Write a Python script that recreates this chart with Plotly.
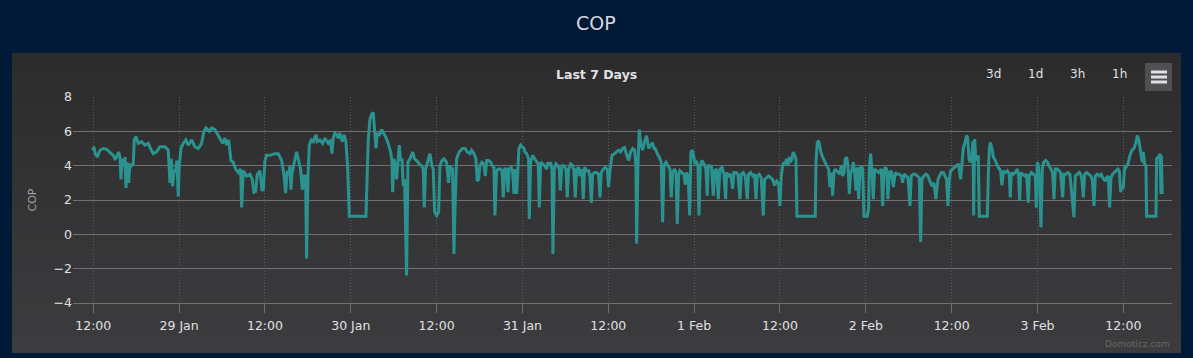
import pandas as pd
import plotly.graph_objects as go

# ---------------- data (hours since 28 Jan 00:00, COP) ----------------
A_hours = [11.91, 12.09, 12.28, 12.56, 12.93, 13.40, 13.86, 14.33, 14.80, 15.03,
           15.26, 15.54, 15.73, 15.87, 16.05, 16.29, 16.43, 16.57, 16.75, 16.94,
           17.13, 17.36, 17.59, 17.73, 17.96, 18.29, 18.76, 19.22, 19.69, 20.01,
           20.39, 20.85, 21.32, 22.02, 22.48, 22.72, 22.90, 23.09, 23.28, 23.51,
           23.70, 23.88, 24.02, 24.26, 24.58, 24.95, 25.28, 25.75, 26.21, 26.68,
           27.14, 27.47, 27.75, 28.22, 28.54, 29.01, 29.38, 29.71, 30.08, 30.41,
           30.64, 30.92, 31.11, 31.25, 31.57, 31.90, 32.27, 32.60, 32.74, 32.97,
           33.44, 33.90, 34.23, 34.46, 34.69, 34.93, 35.30, 35.58, 35.77, 36.00,
           36.23, 36.70, 37.40, 37.86, 38.33, 38.65, 38.89, 39.12, 39.35, 39.49,
           39.63, 39.77, 40.05, 40.43, 40.70, 40.98, 41.22, 41.45, 41.68, 41.82,
           42.01, 42.20, 42.48, 42.76, 43.13, 43.31, 43.69, 44.06, 44.39, 44.85,
           45.18, 45.36, 45.55, 45.78, 46.02, 46.25, 46.48, 46.81, 47.09, 47.32,
           47.55, 47.79, 50.12, 50.30, 50.44]
A_cop = [4.9, 5.1, 4.7, 4.5, 4.9, 5.0, 4.95, 4.8, 4.6, 4.4,
         4.5, 4.8, 4.5, 3.2, 4.4, 4.0, 4.5, 2.7, 4.2, 3.0,
         4.1, 4.0, 4.1, 5.5, 5.7, 5.3, 5.4, 5.2, 5.3, 5.0,
         4.7, 4.8, 5.1, 5.1, 4.9, 3.0, 4.4, 2.8, 3.6, 3.8,
         4.3, 2.2, 4.0, 5.0, 5.3, 5.5, 5.2, 5.5, 5.1, 5.0,
         5.3, 6.0, 6.2, 6.0, 6.2, 6.1, 5.8, 5.6, 5.3, 5.6,
         5.2, 5.5, 4.8, 4.3, 4.2, 3.8, 3.6, 3.8, 1.57, 3.7,
         3.4, 3.5, 3.2, 2.45, 2.5, 3.5, 3.7, 2.6, 2.6, 4.3,
         4.6, 4.6, 4.7, 4.7, 4.3, 3.5, 2.4, 3.7, 3.5, 4.0,
         2.6, 3.5, 4.1, 4.8, 4.3, 3.8, 2.6, 3.4, 3.4, -1.4,
         3.3, 5.2, 5.5, 5.4, 5.8, 5.4, 5.5, 5.3, 5.6, 5.3,
         5.5, 4.7, 5.6, 5.9, 5.8, 5.6, 5.9, 5.4, 5.8, 5.4,
         4.0, 1.05, 1.05, 3.5, 5.5]

B_hours = [50.68, 50.91, 51.14, 51.33, 51.52, 51.70, 51.98, 52.31, 52.63, 52.91,
           53.15, 53.38, 53.57, 53.75, 53.85, 54.03, 54.22, 54.40, 54.59, 54.78,
           54.96, 55.15, 55.34, 55.52, 55.80, 55.99, 56.27, 56.64, 56.92, 57.20,
           57.57, 57.90, 58.13, 58.27, 58.46, 58.69, 59.06, 59.34, 59.53, 59.72,
           60.00, 60.28, 60.46, 60.74, 61.02, 61.39, 61.67, 61.86, 62.05, 62.23,
           62.42, 62.61, 62.79, 63.16, 63.63, 63.96, 64.28, 64.66, 64.89, 65.22,
           65.49, 65.68, 65.87, 66.05, 66.33, 66.61, 66.80, 66.99, 67.27, 67.55,
           67.78, 68.01, 68.15, 68.38, 68.66, 68.94, 69.13, 69.32, 69.50, 69.78,
           69.97, 70.15, 70.43, 70.62, 70.81, 70.99, 71.18, 71.37, 71.51, 71.74,
           72.02, 72.21, 72.35, 72.58, 72.86, 72.95, 73.14, 73.42, 73.70, 73.98,
           74.21, 74.35, 74.54, 74.81, 75.09, 75.37, 75.56, 75.75, 75.93, 76.12,
           76.26, 76.45, 76.68, 76.96, 77.15, 77.28, 77.52, 77.80, 78.08, 78.26,
           78.45, 78.73, 79.01, 79.20, 79.38, 79.57, 79.85, 80.03, 80.31, 80.50,
           80.69, 80.97, 81.25, 81.43, 81.62, 81.81, 82.09, 82.36, 82.64, 82.83,
           83.02, 83.30, 83.58, 83.85, 84.04, 84.23, 84.51, 84.88, 85.16, 85.44,
           85.72, 86.00, 86.28, 86.46, 86.65, 86.84, 87.12, 87.40, 87.68, 87.86,
           87.96, 88.14, 88.33, 88.51, 88.79, 89.07, 89.35, 89.63, 89.91, 90.19,
           90.38, 90.56, 90.84, 91.12, 91.40, 91.59, 91.78, 92.06, 92.34]
B_cop = [6.7, 7.0, 7.1, 6.1, 5.0, 5.9, 5.75, 6.1, 5.9, 5.65,
         5.4, 5.0, 4.8, 4.3, 2.45, 4.4, 4.0, 3.2, 4.2, 5.2,
         4.3, 4.4, 2.8, 3.2, -2.4, 4.2, 4.4, 4.8, 4.4, 4.3,
         4.1, 4.0, 3.8, 1.57, 3.8, 4.1, 4.7, 4.0, 3.8, 1.3,
         1.1, 1.3, 4.0, 4.3, 4.4, 4.2, 3.0, 4.0, 3.8, 3.8,
         -1.15, 2.05, 4.4, 4.8, 5.0, 5.0, 4.8, 4.7, 4.9, 4.7,
         4.4, 3.1, 3.2, 4.0, 4.2, 4.1, 3.4, 4.3, 4.3, 4.2,
         4.0, 3.9, 1.1, 3.7, 3.8, 3.8, 3.7, 2.15, 3.8, 3.8,
         2.45, 3.8, 3.9, 3.7, 2.35, 3.8, 2.35, 3.9, 5.0, 5.2,
         5.1, 5.0, 4.8, 4.7, 4.4, 0.9, 4.2, 4.6, 4.4, 4.2,
         4.1, 1.57, 4.2, 4.1, 4.0, 3.8, 4.2, 4.0, 4.2, 3.8,
         -1.15, 3.8, 4.1, 4.0, 3.8, 2.55, 4.0, 4.0, 3.8, 2.15,
         3.8, 4.1, 4.0, 3.7, 2.15, 3.8, 3.9, 3.4, 3.8, 2.05,
         3.9, 3.7, 3.7, 3.4, 1.85, 3.5, 3.6, 3.6, 3.5, 2.15,
         3.6, 3.8, 3.9, 3.8, 2.75, 3.7, 4.6, 4.7, 4.8, 4.9,
         4.8, 5.0, 5.05, 4.7, 4.5, 4.3, 4.8, 5.0, 4.9, 4.0,
         -0.55, 4.0, 6.1, 5.4, 4.9, 5.4, 5.75, 5.0, 5.2, 5.35,
         5.0, 5.0, 4.7, 4.5, 4.2, 0.7, 4.0, 4.2, 4.0]

C_hours = [92.62, 92.80, 92.99, 93.27, 93.46, 93.64, 93.83, 94.01, 94.29, 94.57,
           94.76, 94.95, 95.18, 95.37, 95.55, 95.74, 95.92, 96.11, 96.34, 96.53,
           96.67, 96.86, 97.09, 97.37, 97.65, 97.83, 97.97, 98.21, 98.44, 98.67,
           98.86, 99.14, 99.37, 99.61, 99.89, 100.16, 100.40, 100.54, 100.82, 101.10,
           101.38, 101.56, 101.84, 102.12, 102.40, 102.59, 102.87, 103.15, 103.43, 103.61,
           103.89, 104.17, 104.45, 104.64, 104.82, 105.10, 105.38, 105.66, 105.85, 106.13,
           106.41, 106.69, 106.97, 107.25, 107.53, 107.81, 107.99, 108.18, 108.37, 108.55,
           108.74, 108.93, 109.11, 109.30, 109.48, 109.67, 109.86, 110.04, 110.23, 110.37,
           112.93, 113.03, 113.21, 113.40, 113.58, 113.77, 113.96, 114.14, 114.33, 114.52,
           114.80, 114.98, 115.17, 115.36, 115.54, 115.73, 115.92, 116.20, 116.38, 116.57,
           116.76, 116.95, 117.13, 117.32, 117.50, 117.69, 117.88, 118.06, 118.25, 118.44,
           118.63, 118.81, 119.00, 119.18, 119.37, 119.56, 119.74, 120.20, 120.39, 120.48,
           120.67, 120.86, 121.04, 121.23, 121.51, 121.79, 121.97, 122.16, 122.35, 122.53,
           122.72, 122.91, 123.09, 123.28, 123.56, 123.84, 124.12, 124.40, 124.68, 124.96,
           125.14, 125.33, 125.61, 125.89, 126.17, 126.35, 126.63, 126.91, 127.19, 127.47,
           127.66, 127.84, 128.12, 128.40, 128.68, 128.96, 129.24, 129.52, 129.80, 130.08,
           130.36]
C_cop = [3.8, 2.15, 3.6, 3.8, 3.6, 0.6, 3.4, 3.7, 3.6, 3.5,
         2.9, 3.6, 3.3, 1.1, 4.8, 4.9, 4.6, 4.1, 4.2, 4.0,
         1.1, 4.0, 4.3, 4.1, 3.8, 2.25, 4.0, 4.0, 3.9, 2.25,
         3.7, 3.8, 2.05, 3.8, 3.9, 3.5, 2.05, 3.6, 3.4, 3.5,
         2.65, 3.6, 3.6, 3.5, 2.05, 3.5, 3.6, 3.4, 2.05, 3.5,
         3.6, 3.4, 3.5, 2.05, 3.4, 3.5, 3.3, 1.1, 3.2, 3.3,
         3.4, 3.3, 3.2, 2.85, 3.1, 2.95, 1.65, 3.4, 4.0, 4.2,
         4.1, 4.4, 4.0, 4.5, 4.2, 4.4, 4.8, 4.6, 4.4, 1.05,
         1.05, 4.2, 5.35, 5.45, 4.95, 4.7, 4.5, 4.3, 4.2, 4.0,
         3.8, 2.75, 3.6, 2.25, 3.6, 3.8, 3.7, 3.6, 3.5, 4.0,
         3.4, 3.6, 4.4, 4.5, 4.0, 2.35, 3.6, 3.7, 4.2, 3.6,
         2.55, 3.9, 2.05, 3.8, 4.0, 3.8, 1.05, 1.05, 1.5, 3.8,
         4.7, 3.7, 2.05, 3.8, 3.7, 3.6, 3.7, 3.8, 1.65, 3.7,
         3.9, 3.8, 2.05, 3.6, 3.7, 2.75, 3.6, 3.5, 3.5, 3.4,
         3.0, 3.5, 3.4, 3.3, 1.65, 3.4, 3.5, 3.5, 3.4, 3.3,
         -0.45, 3.2, 3.4, 3.5, 3.4, 3.1, 2.8, 3.0, 2.05, 3.2,
         3.4]

D_hours = [130.55, 130.83, 131.11, 131.29, 131.48, 131.67, 131.85, 132.13, 132.41, 132.69,
           132.97, 133.25, 133.44, 133.62, 133.86, 134.09, 134.23, 134.42, 134.60, 134.79,
           134.98, 135.07, 135.21, 135.35, 135.53, 135.72, 135.86, 136.98, 137.12, 137.26,
           137.40, 137.63, 137.82, 138.10, 138.38, 138.66, 138.84, 139.03, 139.22, 139.50,
           139.78, 140.05, 140.19, 140.33, 140.61, 140.89, 141.17, 141.36, 141.50, 141.64,
           141.92, 142.20, 142.48, 142.71, 142.85, 143.13, 143.41, 143.69, 143.83, 143.97,
           144.15, 144.34, 144.48, 144.67, 144.85, 145.13, 145.37, 145.65, 145.93, 146.11,
           146.30, 146.49, 146.77, 147.04, 147.23, 147.51, 147.70, 147.97, 148.25, 148.53,
           148.72, 148.91, 149.09, 149.28, 149.56, 149.84, 150.03, 150.21, 150.40, 150.59,
           150.87, 151.15, 151.43, 151.66, 151.90, 152.08, 152.36, 152.64, 152.92, 153.10,
           153.29, 153.48, 153.66, 153.90, 154.08, 154.27, 154.50, 154.78, 155.06, 155.25,
           155.43, 155.62, 155.81, 155.99, 156.18, 156.36, 156.64, 156.92, 157.20, 157.48,
           157.76, 157.95, 158.13, 158.32, 158.51, 158.65, 158.79, 158.97, 159.16, 159.25,
           160.56, 160.65, 160.84, 161.02, 161.12, 161.26, 161.30, 161.44]
D_cop = [3.6, 3.6, 3.4, 3.2, 1.65, 3.2, 3.7, 3.8, 3.9, 4.0,
         4.1, 3.2, 4.3, 5.0, 5.35, 5.75, 5.65, 4.4, 4.2, 4.5,
         5.45, 1.1, 5.55, 4.5, 4.3, 4.6, 1.05, 1.05, 3.4, 5.0,
         5.35, 5.0, 4.5, 4.3, 4.0, 3.8, 3.7, 2.85, 3.7, 3.6,
         3.7, 3.5, 2.15, 3.6, 3.5, 3.6, 3.8, 3.4, 1.95, 3.6,
         3.5, 3.4, 3.5, 1.85, 3.4, 3.6, 3.5, 3.4, 1.55, 4.2,
         4.0, 2.45, 0.4, 3.8, 4.2, 4.3, 4.2, 4.0, 3.8, 3.6,
         2.05, 3.8, 3.8, 3.7, 3.6, 2.15, 3.5, 3.5, 3.6, 3.5,
         2.55, 1.85, 1.0, 3.4, 3.5, 3.6, 3.5, 3.2, 2.15, 3.5,
         3.6, 3.5, 3.4, 3.2, 1.65, 3.4, 3.5, 3.4, 3.5, 3.3,
         3.2, 3.1, 3.3, 3.4, 1.57, 3.3, 3.5, 3.6, 3.7, 3.8,
         3.7, 2.45, 2.85, 2.65, 4.0, 3.9, 4.1, 4.6, 4.9, 5.0,
         5.35, 5.75, 5.55, 5.0, 4.4, 4.2, 4.8, 4.1, 4.0, 1.05,
         1.05, 4.4, 4.5, 4.5, 4.7, 2.35, 4.6, 2.35]

start_day = "2024-01-28"
tick_times = ["2024-01-28 12:00", "2024-01-29 00:00", "2024-01-29 12:00",
              "2024-01-30 00:00", "2024-01-30 12:00", "2024-01-31 00:00",
              "2024-01-31 12:00", "2024-02-01 00:00", "2024-02-01 12:00",
              "2024-02-02 00:00", "2024-02-02 12:00", "2024-02-03 00:00",
              "2024-02-03 12:00"]
tick_labels = ["12:00", "29 Jan", "12:00", "30 Jan", "12:00", "31 Jan", "12:00",
               "1 Feb", "12:00", "2 Feb", "12:00", "3 Feb", "12:00"]
x_window = ["2024-01-28 09:10", "2024-02-03 18:48"]
y_ticks = [-4, -2, 0, 2, 4, 6, 8]
range_buttons = ["3d", "1d", "3h", "1h"]

# ---------------- build ----------------
hours = A_hours + B_hours + C_hours + D_hours
cop = A_cop + B_cop + C_cop + D_cop
assert len(hours) == len(cop), (len(hours), len(cop))
times = pd.Timestamp(start_day) + pd.to_timedelta(hours, unit="h")

W, H = 1193, 358
ML, MR, MT, MB = 73, 21, 97, 55
PW, PH = W - ML - MR, H - MT - MB


def px2paper_x(px):
    return (px - ML) / PW


def px2paper_y(py):
    return (H - MB - py) / PH


fig = go.Figure()
fig.add_trace(go.Scatter(
    x=times, y=cop, mode="lines",
    line=dict(color="#2b938f", width=3),
    hoverinfo="x+y", showlegend=False,
))

shapes = []
# panel with vertical gradient
top, bot = 53, 353
n = 40
c0 = (0x2c, 0x2c, 0x2d)
c1 = (0x3c, 0x3c, 0x3e)
for i in range(n):
    y0 = top + (bot - top) * i / n
    y1 = top + (bot - top) * (i + 1) / n + 0.6
    t = i / (n - 1)
    col = tuple(round(c0[k] + (c1[k] - c0[k]) * t) for k in range(3))
    shapes.append(dict(type="rect", xref="paper", yref="paper",
                       x0=px2paper_x(12), x1=px2paper_x(1181),
                       y0=px2paper_y(min(y1, bot)), y1=px2paper_y(y0),
                       line=dict(width=0), fillcolor="rgb(%d,%d,%d)" % col,
                       layer="below"))
# hamburger button
shapes.append(dict(type="rect", xref="paper", yref="paper",
                   x0=px2paper_x(1145), x1=px2paper_x(1172),
                   y0=px2paper_y(91), y1=px2paper_y(63),
                   line=dict(width=0), fillcolor="#505053", layer="above"))
for yy in (72, 77, 82):
    shapes.append(dict(type="line", xref="paper", yref="paper",
                       x0=px2paper_x(1151), x1=px2paper_x(1167),
                       y0=px2paper_y(yy), y1=px2paper_y(yy),
                       line=dict(color="#E0E0E3", width=3), layer="above"))

FONT = "DejaVu Sans"
annotations = [
    dict(text="COP", x=px2paper_x(596), y=px2paper_y(23), xref="paper", yref="paper",
         showarrow=False, xanchor="center", yanchor="middle",
         font=dict(family=FONT, size=19, color="#D8D8DA")),
    dict(text="<b>Last 7 Days</b>", x=px2paper_x(596), y=px2paper_y(74),
         xref="paper", yref="paper", showarrow=False, xanchor="center",
         yanchor="middle", font=dict(family=FONT, size=12.5, color="#E0E0E3")),
    dict(text="Domoticz.com", x=px2paper_x(1172), y=px2paper_y(344),
         xref="paper", yref="paper", showarrow=False, xanchor="right",
         yanchor="middle", font=dict(family=FONT, size=9, color="#666666")),
]
for lbl, bx in zip(range_buttons, (993, 1035, 1077, 1119)):
    annotations.append(dict(text=lbl, x=px2paper_x(bx), y=px2paper_y(74),
                            xref="paper", yref="paper", showarrow=False,
                            xanchor="center", yanchor="middle",
                            font=dict(family=FONT, size=12, color="#E0E0E3")))

fig.update_layout(
    width=W, height=H,
    margin=dict(l=ML, r=MR, t=MT, b=MB, pad=0),
    paper_bgcolor="#011a37",
    plot_bgcolor="rgba(0,0,0,0)",
    font=dict(family=FONT, color="#E0E0E3"),
    shapes=shapes,
    annotations=annotations,
    showlegend=False,
    xaxis=dict(
        type="date", range=x_window,
        tickvals=tick_times, ticktext=tick_labels,
        showgrid=True, gridcolor="#5c5c5f", gridwidth=1, griddash="1px,2px",
        showline=True, linecolor="#707073", linewidth=1,
        ticks="outside", ticklen=9, tickcolor="#707073", tickwidth=1,
        tickfont=dict(family=FONT, size=12.5, color="#E0E0E3"),
        ticklabelstandoff=2,
        zeroline=False, fixedrange=True,
    ),
    yaxis=dict(
        range=[-4, 8], tickvals=y_ticks,
        showgrid=True, gridcolor="#707073", gridwidth=1,
        zeroline=False, showline=False, ticks="",
        tickfont=dict(family=FONT, size=12.5, color="#E0E0E3"),
        title=dict(text="COP", standoff=14,
                   font=dict(family=FONT, size=11, color="#A0A0A3")),
        fixedrange=True,
    ),
)

fig.write_html(
    "out.html",
    config={"displayModeBar": False},
    post_script="document.body.style.margin='0';document.body.style.background='#011a37';",
)
